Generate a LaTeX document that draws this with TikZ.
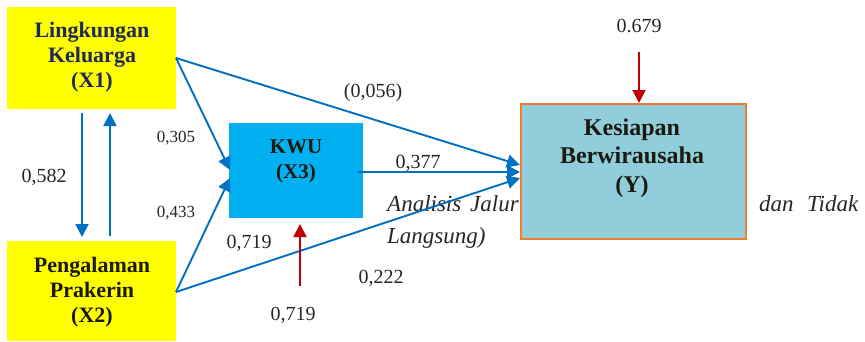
\documentclass[tikz,border=0pt]{standalone}
\usepackage{fontspec}
\setmainfont{Liberation Serif}
\usetikzlibrary{arrows.meta}
\definecolor{ylw}{HTML}{FFFF00}
\definecolor{kwu}{HTML}{00B0F0}
\definecolor{ybox}{HTML}{92CDDC}
\definecolor{orng}{HTML}{ED7D31}
\definecolor{arrblue}{HTML}{0070C0}
\definecolor{arrred}{HTML}{C00000}
\definecolor{navy}{HTML}{1F2A5C}
\definecolor{nearblack}{HTML}{1A1A10}
\tikzset{
  box/.style={draw=none, inner sep=0pt, anchor=north west},
  boxtext/.style={align=center, font=\bfseries\fontsize{22}{25}\selectfont, inner sep=0pt, anchor=base},
  lbl/.style={font=\fontsize{20}{24}\selectfont, inner sep=0pt, anchor=base, text=black!85},
  lbls/.style={font=\fontsize{17}{20}\selectfont, inner sep=0pt, anchor=base, text=black!85},
  ital/.style={font=\itshape\fontsize{23}{28}\selectfont, inner sep=0pt, anchor=base west, text=black!85},
  barr/.style={draw=arrblue, line width=1.9pt, -{Triangle[length=13pt,width=13pt]}},
  rarr/.style={draw=arrred, line width=1.9pt, -{Triangle[length=13pt,width=13pt]}}
}
\begin{document}
\begin{tikzpicture}[x=1pt,y=-1pt]
\useasboundingbox (0,0) rectangle (865,341);
\fill[white] (0,0) rectangle (865,341);

% background italic text (partly hidden by the Y box)
\node[ital] (t1) at (387,211) {Analisis};
\node[ital] (t2) at (470,211) {Jalur};
\node[ital] (t3) at (759,211) {dan};
\node[ital] (t4) at (807,211) {Tidak};
\node[ital] (t5) at (387,243) {Langsung)};

% boxes
\node[box, fill=ylw, minimum width=169pt, minimum height=102pt] (x1) at (7,7) {};
\node[box, fill=ylw, minimum width=169pt, minimum height=100pt] (x2) at (7,241) {};
\node[box, fill=kwu, minimum width=134pt, minimum height=95pt] (x3) at (229,123) {};
\node[box, fill=ybox, draw=orng, line width=1.6pt, minimum width=225pt, minimum height=135pt] (y) at (520,103) {};

% box texts (anchor = baseline of last line)
\node[boxtext, text=navy] (x1t) at (92,87) {Lingkungan\\Keluarga\\(X1)};
\node[boxtext, text=nearblack] (x2t) at (92,322) {Pengalaman\\Prakerin\\(X2)};
\node[boxtext, text=nearblack, font=\bfseries\fontsize{21}{25}\selectfont] (x3t) at (296,178) {KWU\\(X3)};
\node[boxtext, text=nearblack, font=\bfseries\fontsize{24}{28.5}\selectfont] (yt) at (632,192) {Kesiapan\\Berwirausaha\\(Y)};

% coordinates for arrow ends
\coordinate (x1e) at (176,58);
\coordinate (x2e) at (176,292);
\coordinate (x3a) at (230,170);
\coordinate (x3b) at (230,178);
\coordinate (ya) at (520,165);
\coordinate (yb) at (520,172);
\coordinate (yc) at (520,178);
\coordinate (x3o) at (358,172);
\coordinate (d1) at (82,113);
\coordinate (d2) at (82,237);
\coordinate (u1) at (110,236);
\coordinate (u2) at (110,113);
\coordinate (r1s) at (300,286);
\coordinate (r1e) at (300,224);
\coordinate (r2s) at (639,52);
\coordinate (r2e) at (639,103);

% blue arrows
\draw[barr] (d1) -- (d2);
\draw[barr] (u1) -- (u2);
\draw[barr] (x1e) -- (x3a);
\draw[barr] (x2e) -- (x3b);
\draw[barr] (x1e) -- (ya);
\draw[barr] (x3o) -- (yb);
\draw[barr] (x2e) -- (yc);

% red arrows
\draw[rarr] (r1s) -- (r1e);
\draw[rarr] (r2s) -- (r2e);

% labels
\node[lbl] (l582) at (44,182) {0,582};
\node[lbls] (l305) at (176,142) {0,305};
\node[lbls] (l433) at (176,217) {0,433};
\node[lbl] (l719a) at (249,248) {0,719};
\node[lbl] (l719b) at (293,320) {0,719};
\node[lbl] (l222) at (381,283) {0,222};
\node[lbl] (l056) at (373,97) {(0,056)};
\node[lbl] (l377) at (418,168) {0,377};
\node[lbl] (l679) at (639,32) {0.679};
\end{tikzpicture}
\end{document}
